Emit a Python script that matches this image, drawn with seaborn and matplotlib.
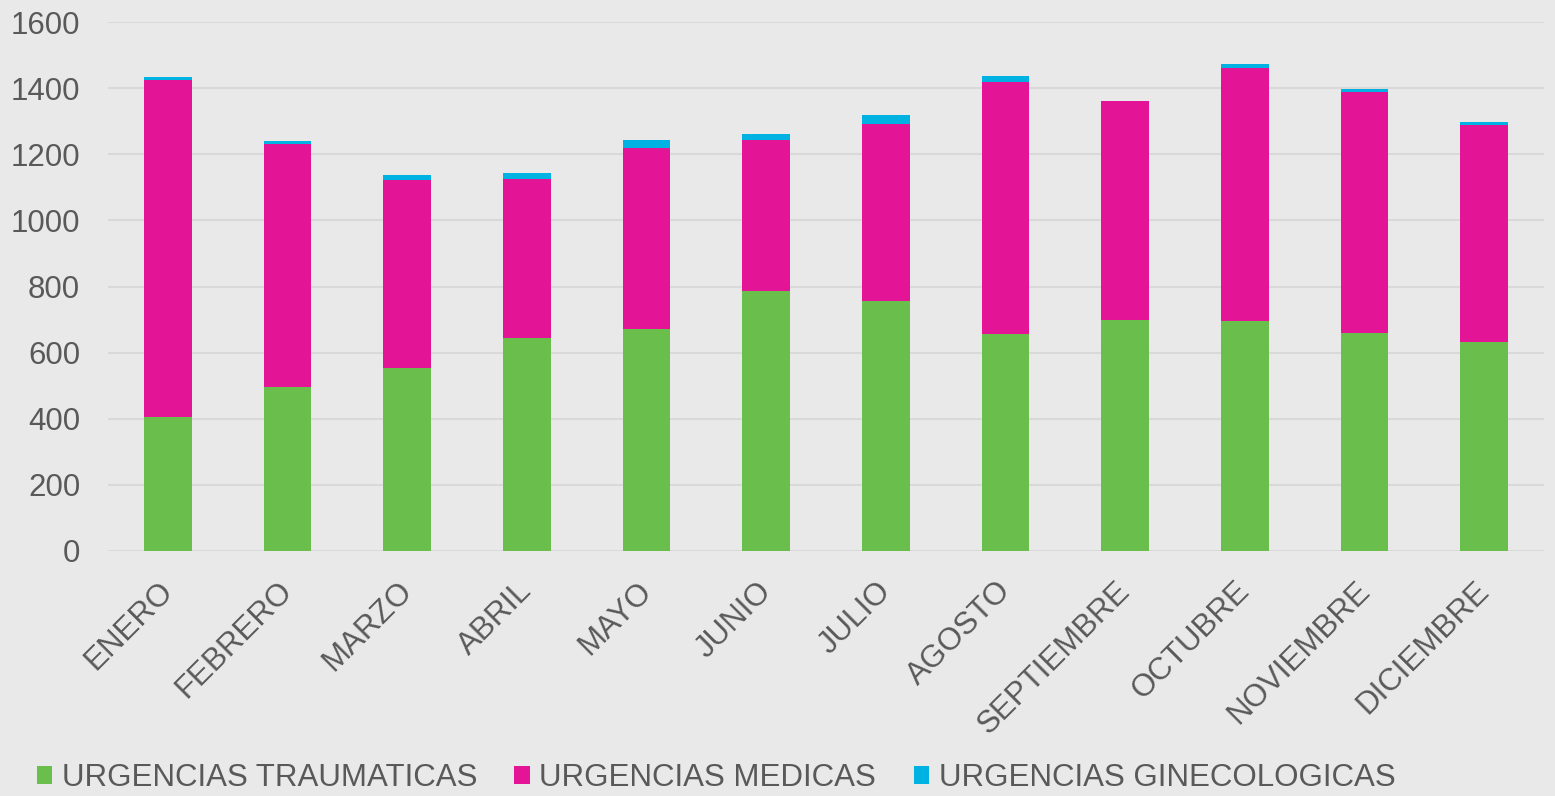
import pandas as pd
import numpy as np
import matplotlib
matplotlib.use("Agg")
import matplotlib.pyplot as plt
import matplotlib.transforms as mtransforms
import seaborn as sns

## Data
meses = ['ENERO', 'FEBRERO', 'MARZO', 'ABRIL', 'MAYO', 'JUNIO', 'JULIO',
         'AGOSTO', 'SEPTIEMBRE', 'OCTUBRE', 'NOVIEMBRE', 'DICIEMBRE']
traumaticas = [405, 497, 554, 644, 672, 787, 757, 655, 699, 697, 660, 631]
medicas = [1019, 734, 568, 481, 547, 457, 536, 763, 663, 765, 728, 658]
ginecologicas = [11, 8, 14, 17, 23, 18, 26, 20, 0, 10, 10, 10]

df = pd.DataFrame({'mes': meses, 'trau': traumaticas, 'med': medicas, 'gin': ginecologicas})

# Styling
bg = '#E9E9E9'
txt = '#595959'
sns.set_style('white')
plt.rcParams['font.family'] = ['Liberation Sans', 'DejaVu Sans']

fig = plt.figure(figsize=(15.55, 7.96), dpi=100, facecolor=bg)
ax = fig.add_axes([108 / 1555, 1 - 551 / 796, (1544 - 108) / 1555, (551 - 22) / 796])
ax.set_facecolor(bg)

# Stacked bars
bar_kw = dict(width=0.4, saturation=1, linewidth=0, ax=ax)
sns.barplot(data=df, x='mes', y='trau', color='#6ABE4B',
            label='URGENCIAS TRAUMATICAS', **bar_kw)
sns.barplot(data=df, x='mes', y='med', bottom=df['trau'], color='#E41496',
            label='URGENCIAS MEDICAS', **bar_kw)
sns.barplot(data=df, x='mes', y='gin', bottom=df['trau'] + df['med'], color='#00B2E2',
            label='URGENCIAS GINECOLOGICAS', **bar_kw)

ax.set_ylim(0, 1600)
ax.set_xlim(-0.5, 11.5)
ax.set_yticks(np.arange(0, 1601, 200))
ax.yaxis.grid(True, color='#D9D9D9', linewidth=1.5)
ax.set_axisbelow(True)
for s in ax.spines.values():
    s.set_visible(False)

ax.set_xlabel('')
ax.set_ylabel('')
ax.tick_params(axis='y', length=0, pad=20, labelsize=22.5, labelcolor=txt)
ax.tick_params(axis='x', length=0, pad=18, labelsize=22.5, labelcolor=txt)
shift = mtransforms.ScaledTranslation(-10 / 100, 0, fig.dpi_scale_trans)
for lbl in ax.get_xticklabels():
    lbl.set_rotation(45)
    lbl.set_ha('right')
    lbl.set_rotation_mode('anchor')
    lbl.set_transform(lbl.get_transform() + shift)

# Legend along the bottom
fig.legend(loc='center left', bbox_to_anchor=(24 / 1555, 1 - 778 / 796), ncol=3,
           frameon=False, fontsize=22.5, labelcolor=txt, handlelength=0.5,
           handleheight=0.5, handletextpad=0.3, columnspacing=1.2, borderaxespad=0)
if ax.get_legend():
    ax.get_legend().remove()

fig.savefig('out.png', dpi=100, facecolor=bg)
